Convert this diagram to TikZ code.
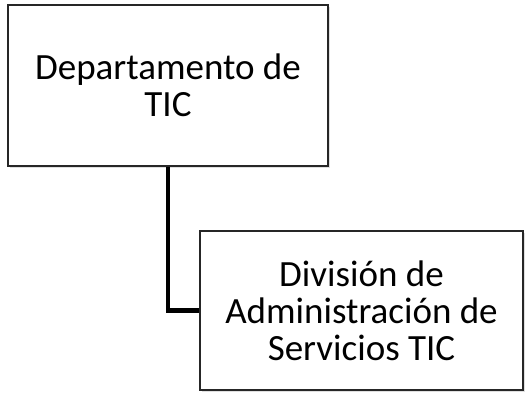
\documentclass[tikz,border=0pt]{standalone}
\usepackage{fontspec}
\setmainfont{Carlito}
\usetikzlibrary{shadows}

\begin{document}
\begin{tikzpicture}[x=1pt, y=-1pt,
  unit/.style={draw=black!85, line width=1.8pt, fill=white, align=center, inner sep=0pt,
    font=\fontsize{37}{37}\selectfont,
    drop shadow={opacity=0.25, shadow xshift=2pt, shadow yshift=-2pt}},
  link/.style={line width=4.5pt}]

\useasboundingbox (0,0) rectangle (525,392);

% the two units
\node[unit, minimum width=320pt, minimum height=161pt] (dept) at (168,85.5) {Departamento de\\TIC};
\node[unit, minimum width=323pt, minimum height=159pt] (div) at (361.5,310.5) {División de\\Administración de\\Servicios TIC};

% connector
\draw[link] (dept.south) |- (div.west);

\end{tikzpicture}
\end{document}
